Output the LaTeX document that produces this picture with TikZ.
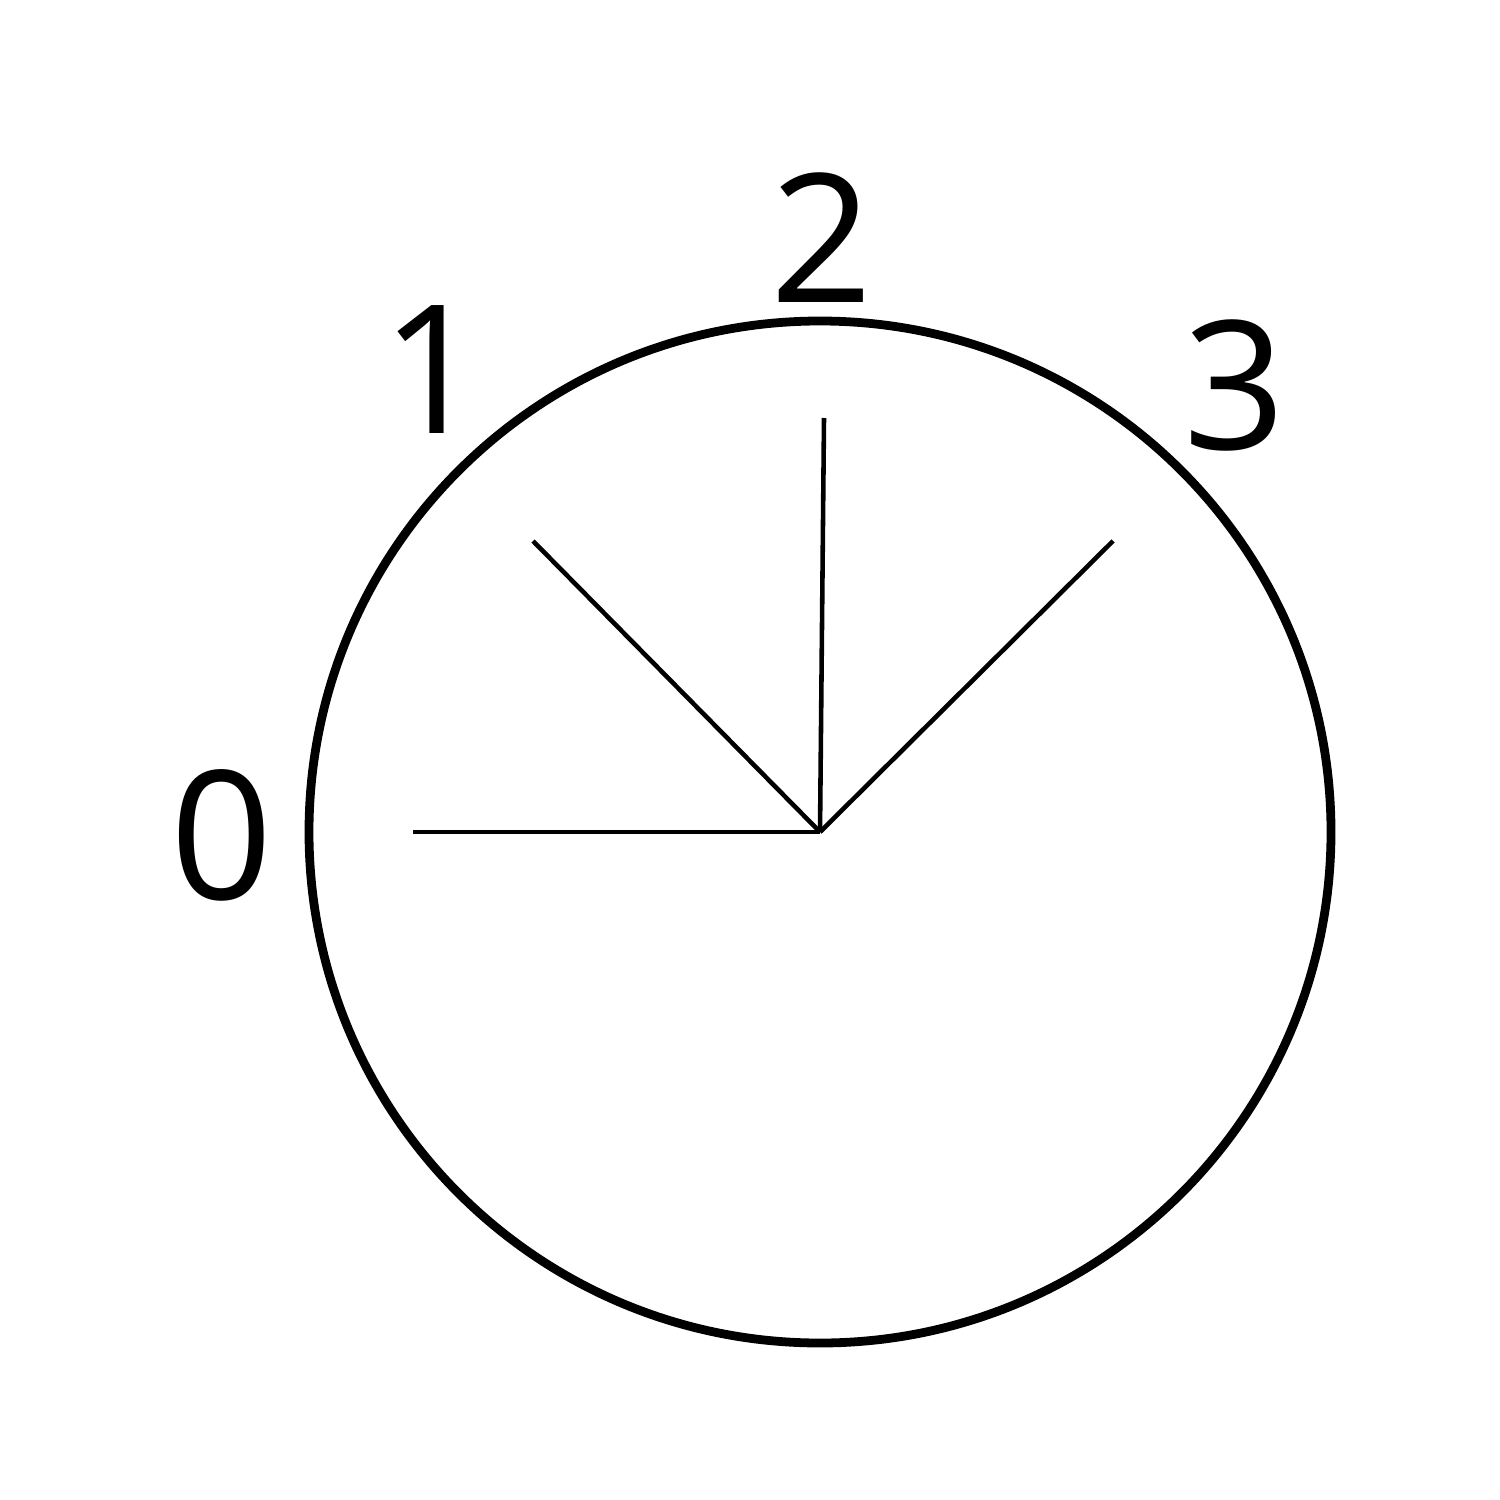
\documentclass[tikz,border=0pt]{standalone}
\usepackage{fontspec}
\setmainfont{Open Sans}
\begin{document}
\begin{tikzpicture}[x=0.1mm,y=-0.1mm,
  rim/.style={line width=2.5pt},
  spoke/.style={line width=1.3pt},
  digit/.style={inner sep=0pt,font=\fontsize{51}{60}\selectfont}]
\useasboundingbox (0,0) rectangle (1500,1500);
\coordinate (c) at (820,832);
\node[draw,rim,circle,minimum size=1022*0.1mm,inner sep=0pt] (dial) at (820,832) {};
\coordinate (e0) at (413,832);
\coordinate (e1) at (533,541);
\coordinate (e2) at (824,418);
\coordinate (e3) at (1113,541);
\draw[spoke] (c) -- (e0);
\draw[spoke] (c) -- (e1);
\draw[spoke] (c) -- (e2);
\draw[spoke] (c) -- (e3);
\node[digit] (l0) at (222,835) {0};
\node[digit] (l1) at (433,370) {1};
\node[digit] (l2) at (822,238) {2};
\node[digit] (l3) at (1235,385) {3};
\end{tikzpicture}
\end{document}
